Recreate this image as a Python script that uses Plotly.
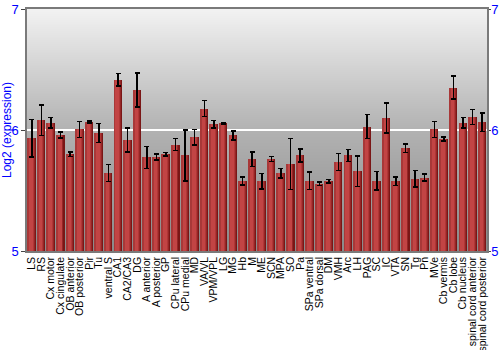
import base64
import struct
import zlib
import plotly.graph_objects as go

categories = ["LS", "RS", "Cx motor", "Cx cingulate", "OB anterior", "OB posterior", "Pir", "Tu",
              "ventral S", "CA1", "CA2/CA3", "DG", "A anterior", "A posterior", "GP", "CPu lateral",
              "CPu medial", "MD", "VA/VL", "VPM/VPL", "LG", "MG", "Hb", "M", "ME", "SCN", "MPA", "SO",
              "Pa", "SPa ventral", "SPa dorsal", "DM", "VMH", "Arc", "LH", "PAG", "SC", "IC", "VTA",
              "SN", "Tg", "Pn", "MVe", "Cb vermis", "Cb lobe", "Cb nucleus",
              "spinal cord anterior", "spinal cord posterior"]

values = [5.93, 6.08, 6.06, 5.96, 5.80, 6.005, 6.066, 5.975,
          5.646, 6.415, 5.917, 6.33, 5.773, 5.776, 5.80, 5.88,
          5.79, 5.94, 6.177, 6.047, 6.055, 5.956, 5.577, 5.757, 5.577, 5.76, 5.643, 5.718,
          5.79, 5.58, 5.555, 5.577, 5.734, 5.79, 5.66, 6.028, 5.582, 6.10, 5.577,
          5.85, 5.596, 5.607, 6.005, 5.925, 6.35, 6.06,
          6.108, 6.064]

errors = [0.155, 0.125, 0.045, 0.025, 0.02, 0.065, 0.01, 0.08,
          0.07, 0.05, 0.10, 0.14, 0.09, 0.025, 0.013, 0.05,
          0.21, 0.065, 0.066, 0.03, 0.005, 0.037, 0.033, 0.06, 0.064, 0.02, 0.04, 0.21,
          0.054, 0.073, 0.015, 0.014, 0.07, 0.05, 0.125, 0.10, 0.076, 0.125, 0.036,
          0.036, 0.068, 0.03, 0.065, 0.017, 0.095, 0.044,
          0.062, 0.075]

y_ticks = [5, 6, 7]
y_range = [5, 7]

n = len(categories)
idx = list(range(n))
x_range = [-0.5, n - 0.5]


def gradient_png(top, mid, bottom, rows=240):
    raw = b""
    for r in range(rows):
        t = r / (rows - 1)
        if t < 0.5:
            a, b, u = top, mid, t / 0.5
        else:
            a, b, u = mid, bottom, (t - 0.5) / 0.5
        px = bytes(int(round(a[i] + (b[i] - a[i]) * u)) for i in range(3))
        raw += b"\x00" + px
    def chunk(tag, data):
        c = struct.pack(">I", len(data)) + tag + data
        return c + struct.pack(">I", zlib.crc32(tag + data) & 0xffffffff)
    png = b"\x89PNG\r\n\x1a\n"
    png += chunk(b"IHDR", struct.pack(">IIBBBBB", 1, rows, 8, 2, 0, 0, 0))
    png += chunk(b"IDAT", zlib.compress(raw))
    png += chunk(b"IEND", b"")
    return "data:image/png;base64," + base64.b64encode(png).decode()


bg = gradient_png((242, 242, 242), (178, 178, 178), (138, 138, 138))

fig = go.Figure()

bw = 0.84
layers = [(1.0, "#7a1616"), (0.86, "#952626"), (0.74, "#b03636"), (0.62, "#c24444"),
          (0.12, "#a83838")]
for frac, col in layers:
    fig.add_trace(go.Bar(x=idx, y=values, width=bw * frac, offset=-bw / 2,
                         marker=dict(color=col, line=dict(width=0)), showlegend=False, hoverinfo="skip"))
fig.add_trace(go.Bar(x=idx, y=values, width=bw, offset=-bw / 2,
                     marker=dict(color="rgba(0,0,0,0)", line=dict(width=0)),
                     error_y=dict(type="data", array=errors, color="black", thickness=1.5, width=2.5),
                     showlegend=False))
# right axis carrier
fig.add_trace(go.Scatter(x=[0], y=[6], yaxis="y2", mode="markers",
                         marker=dict(opacity=0), hoverinfo="skip", showlegend=False))

fig.update_layout(
    width=500, height=350,
    margin=dict(l=27, r=13, t=9, b=99),
    paper_bgcolor="white", plot_bgcolor="rgba(0,0,0,0)",
    barmode="overlay", bargap=0,
    font=dict(family="Liberation Sans, Arial, sans-serif", color="black"),
    images=[dict(source=bg, xref="paper", yref="paper", x=0, y=1, sizex=1, sizey=1,
                 xanchor="left", yanchor="top", sizing="stretch", layer="below")],
    xaxis=dict(range=x_range, tickmode="array", tickvals=idx, ticktext=categories,
               tickangle=-90, tickfont=dict(size=10.5, color="black"), automargin=False,
               showgrid=False, zeroline=False, showline=True, mirror=True,
               linecolor="#7a7a7a", linewidth=1.5, ticks="", ticklen=0),
    yaxis=dict(range=y_range, tickvals=y_ticks, showgrid=True, gridcolor="white", gridwidth=1.5,
               zeroline=False, automargin=False,
               tickfont=dict(size=13, color="#0000ff"), ticks="outside", ticklen=4,
               tickcolor="#444", showline=True, linecolor="#7a7a7a", linewidth=1.5,
               title=dict(text="Log2 (expression)", font=dict(size=12, color="#0000ff"))),
    yaxis2=dict(range=y_range, tickvals=y_ticks, overlaying="y", side="right",
                showgrid=False, zeroline=False, automargin=False,
                tickfont=dict(size=13, color="#0000ff"), ticks="outside", ticklen=2,
                ticklabelstandoff=-2,
                tickcolor="#444", showline=True, linecolor="#7a7a7a", linewidth=1.5),
)

fig.write_html("out.html")
